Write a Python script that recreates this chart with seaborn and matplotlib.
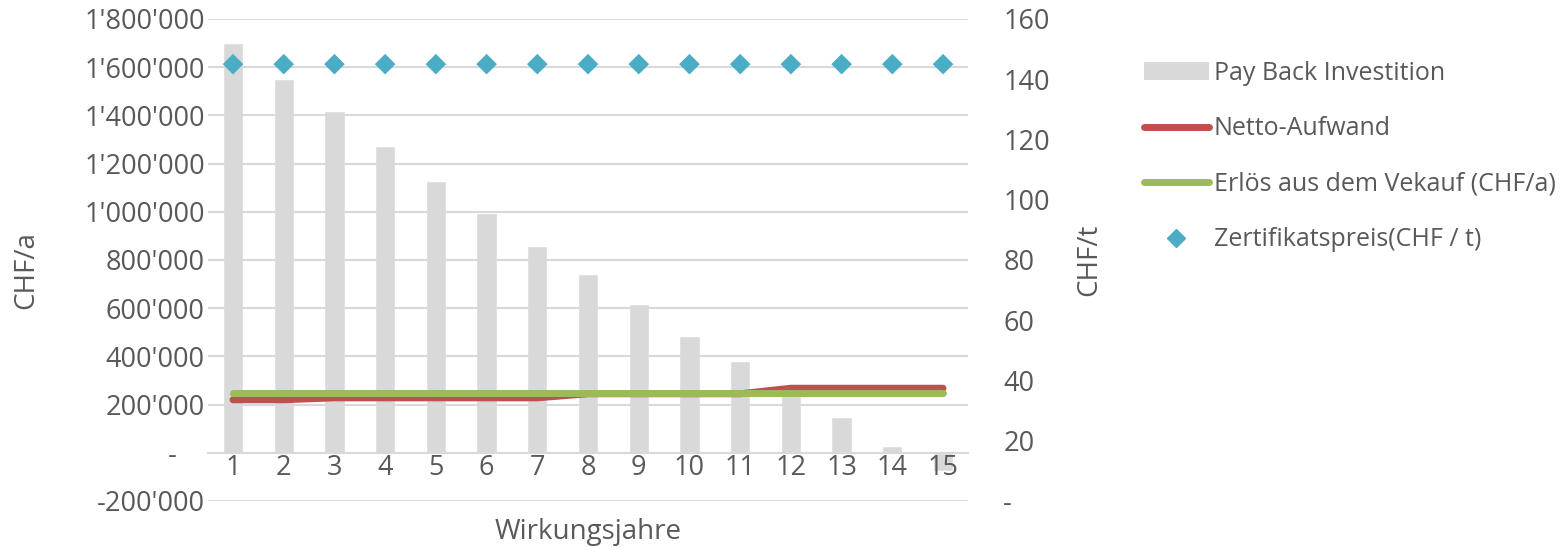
import numpy as np
import seaborn as sns
import matplotlib.pyplot as plt
from matplotlib.patches import Patch
from matplotlib.lines import Line2D

sns.set_style("white")
plt.rcParams['font.family'] = ['Open Sans', 'DejaVu Sans']

# data
years = [str(i) for i in range(1, 16)]
payback = [1700000, 1553000, 1419000, 1273000, 1127000, 993000, 859000, 740000,
           619000, 483000, 379000, 265000, 150000, 30000, -77000]
netto = [220000, 220000, 228000, 228000, 228000, 228000, 228000, 245000,
         245000, 245000, 245000, 268000, 268000, 268000, 268000]
erloes = [247000] * 15
zertifikat = [145] * 15

left_ticks = [-200000, 0, 200000, 400000, 600000, 800000, 1000000, 1200000,
              1400000, 1600000, 1800000]
left_labels = ["-200'000", "-    ", "200'000", "400'000", "600'000", "800'000",
               "1'000'000", "1'200'000", "1'400'000", "1'600'000", "1'800'000"]
right_ticks = [0, 20, 40, 60, 80, 100, 120, 140, 160]
right_labels = ["-", "20", "40", "60", "80", "100", "120", "140", "160"]

labels = ["Pay Back Investition", "Netto-Aufwand",
          "Erlös aus dem Vekauf (CHF/a)", "Zertifikatspreis(CHF / t)"]

c_bar = "#d9d9d9"; c_red = "#c0504d"; c_green = "#9bbb59"; c_blue = "#4bacc6"
c_text = "#595959"; c_grid = "#d9d9d9"
fs_tick = 19.5
fs_lab = 20
fs_leg = 18

fig = plt.figure(figsize=(15.66, 5.47), dpi=100)
ax = fig.add_axes([0.1326, 0.0841, 0.4858, 0.8812])
pos = np.arange(len(years))

sns.barplot(x=years, y=payback, color=c_bar, width=0.4, saturation=1, ax=ax, zorder=2)
sns.lineplot(x=pos, y=netto, color=c_red, linewidth=5, ax=ax, zorder=3,
             solid_capstyle='round')
sns.lineplot(x=pos, y=erloes, color=c_green, linewidth=5, ax=ax, zorder=4,
             solid_capstyle='round')

ax.set_xlim(-0.5, len(years) - 0.5)
ax.set_ylim(-200000, 1800000)
ax.set_yticks(left_ticks)
ax.set_yticklabels(left_labels)
ax.yaxis.grid(True, color=c_grid, linewidth=1.5)
ax.set_axisbelow(False)
for s in ["top", "right", "left"]:
    ax.spines[s].set_visible(False)
ax.spines["bottom"].set_position(("data", 0))
ax.spines["bottom"].set_color(c_grid)
ax.spines["bottom"].set_linewidth(1.5)
ax.spines["bottom"].set_zorder(1)
ax.tick_params(axis="both", length=0, labelsize=fs_tick, colors=c_text)
ax.tick_params(axis="y", pad=2)
ax.tick_params(axis="x", pad=1)
ax.set_ylabel("CHF/a", fontsize=fs_lab, color=c_text)
ax.yaxis.set_label_coords(-0.22, 0.48)
ax.set_xlabel("Wirkungsjahre", fontsize=fs_lab, color=c_text)
ax.xaxis.set_label_coords(0.5, -0.035)

ax2 = ax.twinx()
sns.scatterplot(x=pos, y=zertifikat, marker="D", s=110, color=c_blue,
                edgecolor="none", ax=ax2, zorder=5)
ax2.set_ylim(0, 160)
ax2.set_yticks(right_ticks)
ax2.set_yticklabels(right_labels)
ax2.grid(False)
for s in ax2.spines.values():
    s.set_visible(False)
ax2.tick_params(axis="y", length=0, labelsize=fs_tick, colors=c_text, pad=25)
ax2.set_ylabel("CHF/t", fontsize=fs_lab, color=c_text)
ax2.yaxis.set_label_coords(1.14, 0.5)

handles = [Patch(facecolor=c_bar, edgecolor="none"),
           Line2D([], [], color=c_red, linewidth=5, solid_capstyle='round'),
           Line2D([], [], color=c_green, linewidth=5, solid_capstyle='round'),
           Line2D([], [], color=c_blue, marker="D", linestyle="none", markersize=9)]
fig.legend(handles, labels, loc="upper left", bbox_to_anchor=(0.716, 0.93),
           frameon=False, fontsize=fs_leg, labelcolor=c_text, handlelength=2.6,
           handletextpad=0.2, labelspacing=1.22, handleheight=0.7)

fig.savefig("out.png", dpi=100)
